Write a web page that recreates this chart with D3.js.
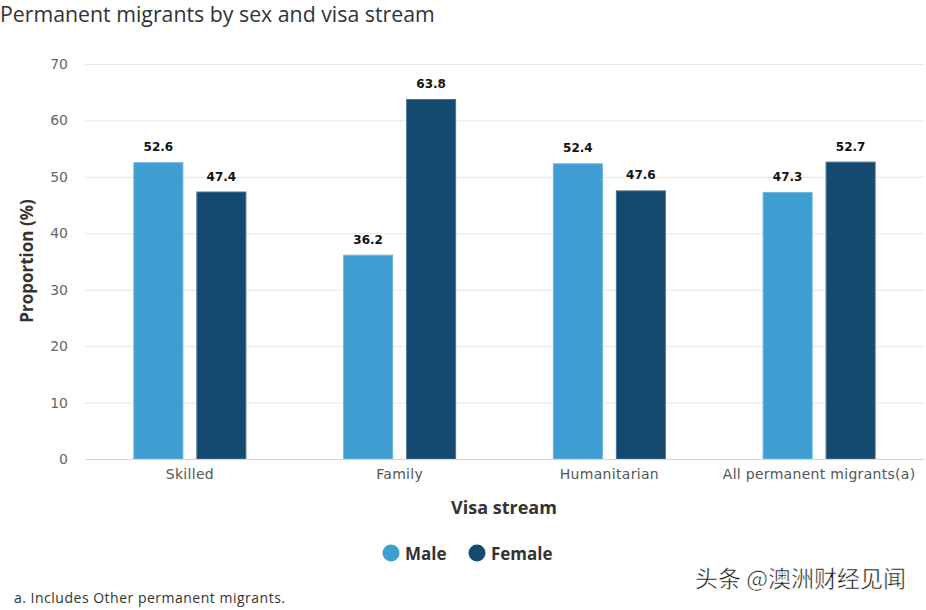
<!DOCTYPE html>
<html><head><meta charset="utf-8">
<script src="https://cdn.jsdelivr.net/npm/d3@7"></script>
<style>body{margin:0;background:#fff}svg{display:block}</style>
</head><body>
<svg id="chart" width="926" height="610"></svg>
<script>
const categories = ["Skilled", "Family", "Humanitarian", "All permanent migrants(a)"];
const seriesNames = ["Male", "Female"];
const maleValues = [52.6, 36.2, 52.4, 47.3];
const femaleValues = [47.4, 63.8, 47.6, 52.7];
const yTicks = [0, 10, 20, 30, 40, 50, 60, 70];
const colors = ["#3e9dd1", "#154a70"];
const strokes = ["#6bb6e0", "#4a6f8f"];

const svg = d3.select("#chart");
const plotLeft = 85, plotRight = 924, plotTop = 64, plotBottom = 459;

const x = d3.scaleBand().domain(categories).range([plotLeft, plotRight]);
const xs = d3.scaleBand().domain(seriesNames).range([0, x.bandwidth()]).paddingInner(0.206).paddingOuter(0.768);
const y = d3.scaleLinear().domain([0, 70]).range([plotBottom, plotTop]);

// title
svg.append("text").attr("x", 0).attr("y", 21.5).attr("font-family", "Open Sans")
  .attr("font-size", 21.3).attr("fill", "#333").text("Permanent migrants by sex and visa stream");

// gridlines
svg.append("g").selectAll("line").data(yTicks.filter(d => d > 0)).join("line")
  .attr("x1", plotLeft).attr("x2", plotRight).attr("y1", d => y(d) + 0.5).attr("y2", d => y(d) + 0.5)
  .attr("stroke", "#e6e6e6").attr("stroke-width", 1);

// y axis
const yAxis = svg.append("g").attr("transform", `translate(${plotLeft},0)`)
  .call(d3.axisLeft(y).tickValues(yTicks).tickSize(0).tickPadding(17));
yAxis.select(".domain").remove();
yAxis.selectAll("text").attr("font-family", "DejaVu Sans").attr("font-size", 14).attr("fill", "#666");

svg.append("text").attr("transform", `translate(33,261) rotate(-90)`).attr("text-anchor", "middle")
  .attr("font-family", "Open Sans").attr("font-weight", "bold").attr("font-size", 17).attr("fill", "#333")
  .text("Proportion (%)");

// bars
const data = categories.map((c, i) => ({ cat: c, vals: [maleValues[i], femaleValues[i]] }));
const groups = svg.append("g").selectAll("g").data(data).join("g")
  .attr("transform", d => `translate(${x(d.cat)},0)`);
groups.selectAll("rect").data(d => d.vals.map((v, j) => ({ s: seriesNames[j], v, j }))).join("rect")
  .attr("x", d => xs(d.s) + 0.5).attr("width", xs.bandwidth() - 1)
  .attr("y", d => y(d.v) + 0.5).attr("height", d => plotBottom - y(d.v) - 0.5)
  .attr("fill", d => colors[d.j]).attr("stroke", d => strokes[d.j]).attr("stroke-width", 1);
groups.selectAll("text").data(d => d.vals.map((v, j) => ({ s: seriesNames[j], v, j }))).join("text")
  .attr("x", d => xs(d.s) + xs.bandwidth() / 2).attr("y", d => y(d.v) - 11)
  .attr("text-anchor", "middle").attr("font-family", "DejaVu Sans").attr("font-weight", "bold")
  .attr("font-size", 12).attr("fill", "#111").text(d => d.v.toFixed(1));

// x axis
const xAxis = svg.append("g").attr("transform", `translate(0,${plotBottom})`)
  .call(d3.axisBottom(x).tickSize(0).tickPadding(10));
xAxis.select(".domain").attr("stroke", "#ccd6eb");
xAxis.selectAll("text").attr("font-family", "DejaVu Sans").attr("font-size", 14).attr("fill", "#555")
  .attr("letter-spacing", 0.3);

svg.append("text").attr("x", 504).attr("y", 514).attr("text-anchor", "middle")
  .attr("font-family", "Open Sans").attr("font-weight", "bold").attr("font-size", 18).attr("fill", "#333")
  .text("Visa stream");

// legend
const legendX = [391, 477];
const lg = svg.append("g").selectAll("g").data(seriesNames).join("g")
  .attr("transform", (d, i) => `translate(${legendX[i]},553)`);
lg.append("circle").attr("r", 8.5).attr("fill", (d, i) => colors[i]);
lg.append("text").attr("x", 14).attr("y", 6.5).attr("font-family", "Open Sans").attr("font-weight", "bold")
  .attr("font-size", 17).attr("fill", "#333").text(d => d);

// footnote
svg.append("text").attr("x", 14).attr("y", 603).attr("font-family", "Open Sans")
  .attr("font-size", 14).attr("fill", "#333").attr("textLength", 271).text("a. Includes Other permanent migrants.");

// watermark
svg.append("text").attr("x", 906).attr("y", 587).attr("text-anchor", "end")
  .attr("font-family", "Noto Sans CJK SC").attr("font-size", 23).attr("fill", "#111")
  .attr("stroke", "#fff").attr("stroke-width", 0.5).text("头条 @澳洲财经见闻");
</script>
</body></html>
